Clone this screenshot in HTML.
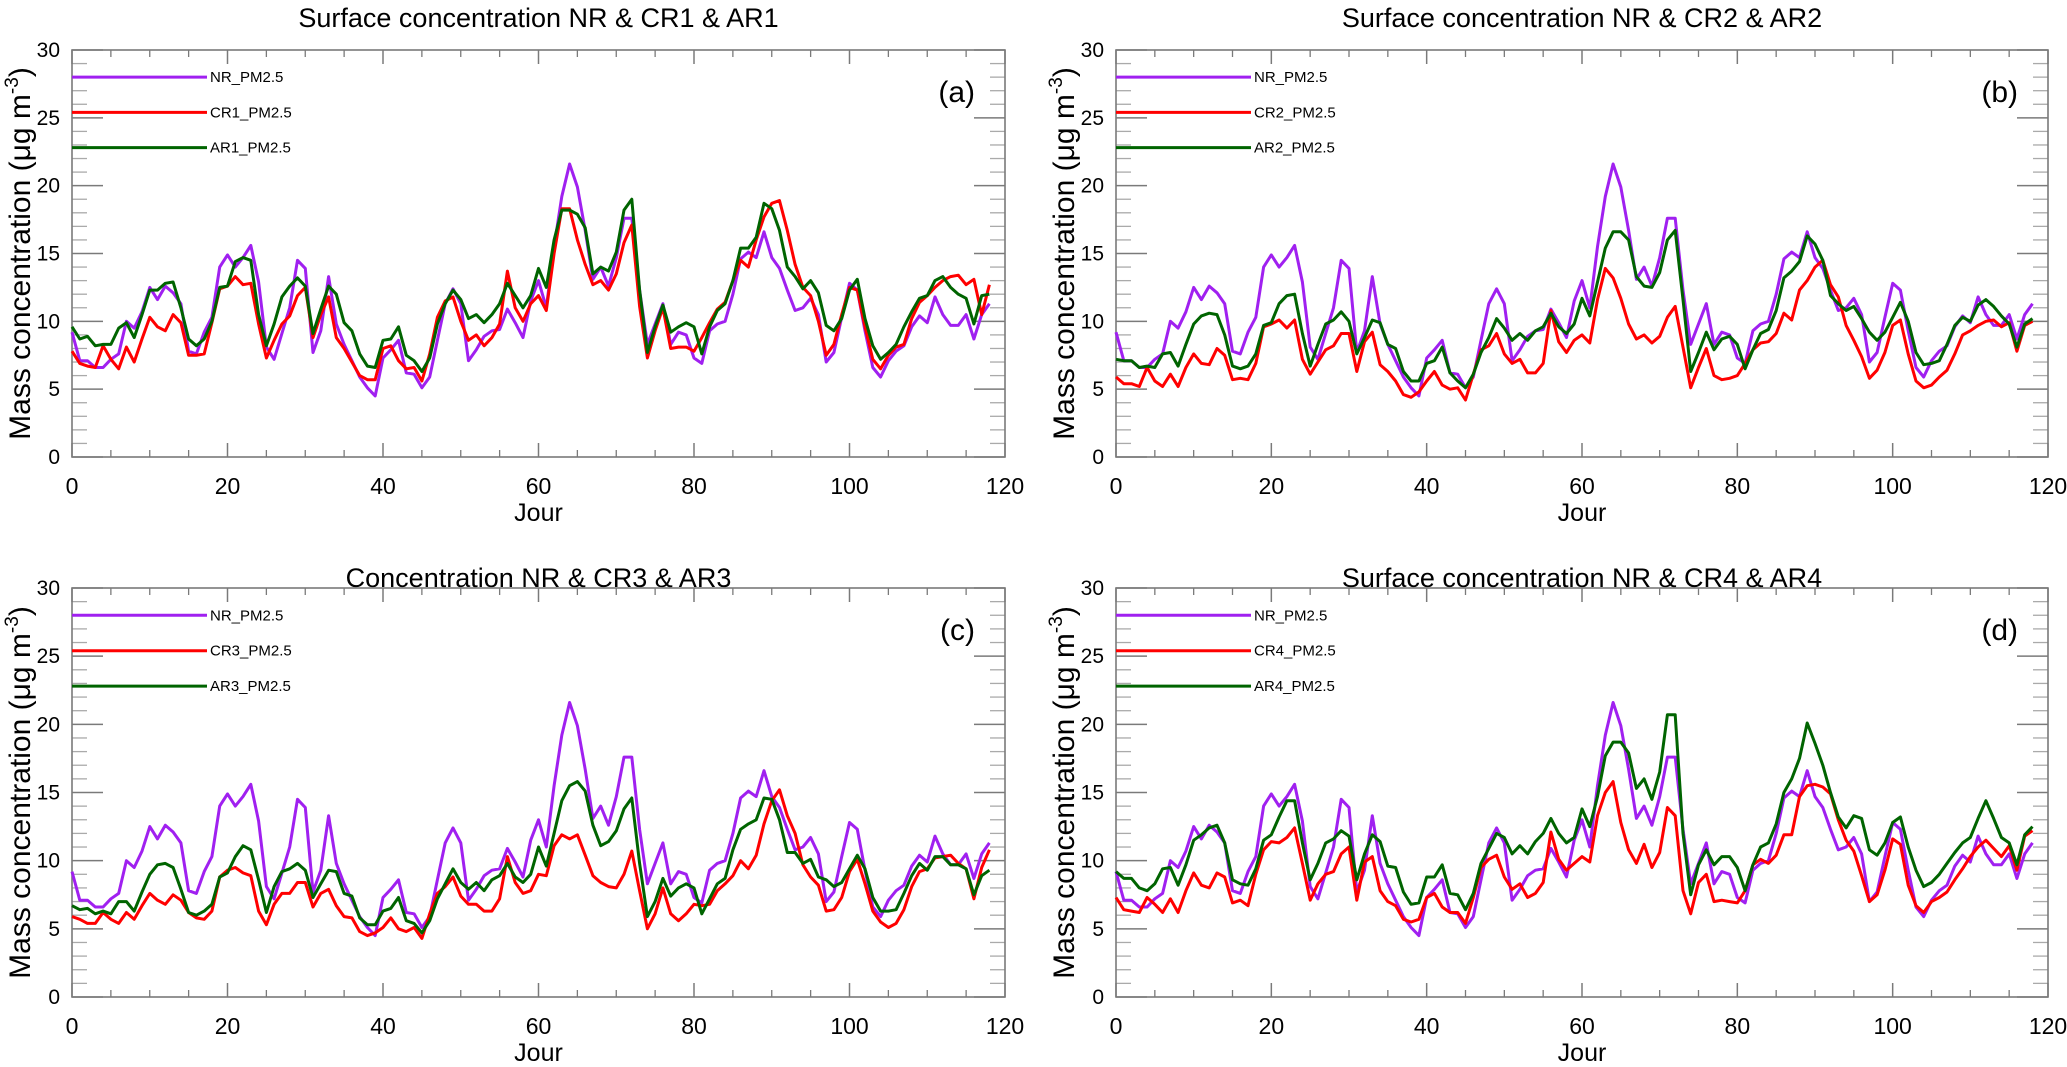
<!DOCTYPE html>
<html><head><meta charset="utf-8"><style>
html,body{margin:0;padding:0;background:#fff;}
svg{display:block;font-family:"Liberation Sans",sans-serif;}
</style></head><body>
<svg id="chart" width="2067" height="1067" viewBox="0 0 2067 1067" xmlns="http://www.w3.org/2000/svg"></svg>
<script>
const xTicks = [0, 20, 40, 60, 80, 100, 120];
const yTicks = [0, 5, 10, 15, 20, 25, 30];
const nr = [9.2,7.1,7.1,6.6,6.6,7.2,7.6,10.0,9.5,10.7,12.5,11.6,12.6,12.1,11.3,7.8,7.6,9.2,10.3,14.0,14.9,14.0,14.7,15.6,12.9,8.1,7.2,9.1,11.0,14.5,13.9,7.7,9.3,13.3,9.8,8.3,7.1,5.9,5.1,4.5,7.3,7.9,8.6,6.2,6.1,5.1,5.9,8.6,11.3,12.4,11.3,7.1,7.9,8.9,9.3,9.4,10.9,9.9,8.8,11.5,13.0,11.0,15.5,19.2,21.6,19.9,16.7,13.1,14.0,12.6,14.7,17.6,17.6,12.3,8.3,9.8,11.3,8.3,9.2,9.0,7.3,6.9,9.3,9.8,10.0,12.0,14.6,15.1,14.7,16.6,14.7,13.9,12.3,10.8,11.0,11.7,10.5,7.0,7.7,10.3,12.8,12.3,9.3,6.6,5.9,7.1,7.8,8.2,9.6,10.4,9.9,11.8,10.5,9.7,9.7,10.5,8.7,10.5,11.3];
const cr1 = [7.8,6.9,6.7,6.6,8.2,7.2,6.5,8.1,7.0,8.7,10.3,9.6,9.3,10.5,9.9,7.5,7.5,7.6,9.9,12.4,12.6,13.3,12.7,12.8,9.8,7.3,8.6,9.8,10.4,11.9,12.5,8.8,10.5,11.8,8.8,8.0,7.0,6.0,5.7,5.7,8.0,8.2,7.1,6.5,6.6,5.6,7.6,10.3,11.5,11.8,10.0,8.6,9.0,8.2,8.8,9.8,13.7,11.0,10.0,11.3,11.9,10.8,15.0,18.3,18.3,16.0,14.2,12.7,13.0,12.3,13.5,15.8,17.1,11.1,7.3,9.3,11.0,8.0,8.1,8.1,7.8,8.8,9.9,10.9,11.4,13.0,14.5,14.0,16.0,17.7,18.7,18.9,16.7,14.2,12.5,11.9,10.0,7.5,8.3,10.5,12.5,12.3,9.6,7.2,6.5,7.5,8.1,8.3,10.2,11.4,11.9,12.5,13.0,13.3,13.4,12.7,13.1,10.5,12.7];
const ar1 = [9.6,8.7,8.9,8.2,8.3,8.3,9.5,9.9,8.8,10.5,12.3,12.3,12.8,12.9,11.0,8.7,8.2,8.7,10.0,12.5,12.6,14.4,14.7,14.5,10.5,8.2,9.8,11.8,12.6,13.2,12.6,9.1,10.9,12.6,12.0,9.9,9.3,7.6,6.7,6.6,8.6,8.7,9.6,7.5,7.1,6.3,7.3,9.8,11.3,12.3,11.6,10.2,10.5,9.9,10.5,11.3,12.8,11.9,11.0,11.9,13.9,12.5,16.0,18.2,18.2,17.9,16.9,13.5,14.0,13.7,15.1,18.2,19.0,12.3,7.7,9.6,11.2,9.2,9.6,9.9,9.6,7.6,9.6,10.8,11.3,13.0,15.4,15.4,16.2,18.7,18.3,16.7,14.0,13.3,12.4,13.0,12.1,9.7,9.3,10.2,12.3,13.1,10.2,8.2,7.2,7.7,8.3,9.6,10.7,11.7,11.9,13.0,13.3,12.5,12.0,11.7,9.8,11.9,12.0];
const cr2 = [5.9,5.4,5.4,5.2,6.6,5.6,5.2,6.1,5.2,6.6,7.6,6.9,6.8,8.0,7.5,5.7,5.8,5.7,6.9,9.6,9.8,10.1,9.5,10.1,7.2,6.1,7.0,7.9,8.2,9.1,9.1,6.3,8.5,9.2,6.8,6.3,5.6,4.6,4.4,4.8,5.6,6.3,5.3,5.0,5.1,4.2,6.1,7.9,8.2,9.1,7.6,6.9,7.2,6.2,6.2,6.9,10.8,8.5,7.7,8.6,9.0,8.4,11.6,13.9,13.2,11.7,9.8,8.7,9.0,8.4,8.9,10.3,11.1,8.1,5.1,6.6,8.0,6.0,5.7,5.8,6.0,6.9,7.9,8.4,8.5,9.1,10.6,10.1,12.3,13.0,14.0,14.5,12.7,11.8,9.7,8.6,7.4,5.8,6.4,7.7,9.7,10.1,7.6,5.6,5.1,5.3,5.9,6.4,7.6,9.0,9.3,9.7,10.0,10.1,9.6,9.9,7.8,9.7,10.0];
const ar2 = [7.2,7.1,7.1,6.6,6.7,6.6,7.6,7.7,6.7,8.3,9.8,10.4,10.6,10.5,9.0,6.7,6.5,6.7,7.6,9.7,9.9,11.3,11.9,12.0,9.1,6.7,8.3,9.8,10.1,10.7,10.0,7.6,8.8,10.1,9.9,8.3,8.0,6.3,5.6,5.6,6.9,7.1,8.1,6.2,5.6,5.1,6.1,7.7,8.8,10.2,9.5,8.6,9.1,8.6,9.3,9.6,10.6,9.6,9.1,9.8,11.7,10.4,12.9,15.4,16.6,16.6,16.0,13.3,12.6,12.5,13.6,16.0,16.7,11.6,6.3,7.7,9.2,7.9,8.7,8.9,8.3,6.5,7.9,9.1,9.4,10.8,13.2,13.7,14.4,16.3,15.7,14.5,11.9,11.3,10.8,11.1,10.2,9.2,8.6,9.2,10.3,11.4,10.0,7.7,6.8,6.9,7.1,8.3,9.7,10.3,10.0,11.2,11.6,11.1,10.4,9.8,8.1,9.8,10.2];
const cr3 = [5.9,5.7,5.4,5.4,6.2,5.7,5.4,6.2,5.7,6.7,7.6,7.1,6.8,7.5,7.1,6.2,5.8,5.7,6.3,8.8,9.3,9.5,9.1,8.9,6.3,5.3,6.8,7.6,7.6,8.4,8.4,6.6,7.6,7.9,6.7,5.9,5.8,4.8,4.5,4.7,5.1,5.8,5.0,4.8,5.1,4.3,6.1,7.6,8.1,8.8,7.4,6.8,6.8,6.3,6.3,7.2,10.3,8.4,7.6,7.8,9.0,8.9,11.1,11.9,11.6,11.9,10.4,8.9,8.4,8.1,8.0,9.0,10.7,7.8,5.0,6.1,8.0,6.1,5.6,6.1,6.8,6.7,6.8,7.8,8.3,8.9,10.0,9.4,10.4,12.7,14.4,15.2,13.3,12.0,9.7,8.8,8.2,6.3,6.4,7.3,9.2,10.1,8.3,6.3,5.5,5.1,5.4,6.4,8.1,9.2,9.4,10.2,10.3,10.4,9.8,9.4,7.2,9.5,10.8];
const ar3 = [6.7,6.4,6.5,6.1,6.3,6.1,7.0,7.0,6.3,7.7,9.0,9.7,9.8,9.5,7.9,6.2,6.0,6.3,6.8,8.8,9.1,10.3,11.1,10.8,8.6,6.2,8.1,9.2,9.4,9.8,9.3,7.3,8.3,9.3,9.2,7.6,7.4,5.8,5.3,5.3,6.3,6.5,7.3,5.6,5.4,4.7,5.6,7.2,8.3,9.4,8.4,7.9,8.4,7.8,8.6,8.9,9.8,8.8,8.4,9.0,11.0,9.6,12.0,14.4,15.5,15.8,15.1,12.6,11.1,11.4,12.2,13.8,14.6,9.8,5.9,7.0,8.7,7.4,8.0,8.3,8.0,6.1,7.2,8.3,8.7,10.8,12.3,12.7,13.0,14.6,14.5,13.0,10.6,10.6,9.8,10.1,8.8,8.6,8.1,8.4,9.4,10.4,9.4,7.3,6.3,6.3,6.4,7.6,8.9,9.8,9.3,10.3,10.3,9.7,9.7,9.4,7.5,8.9,9.3];
const cr4 = [7.3,6.4,6.3,6.2,7.3,6.8,6.2,7.2,6.2,7.8,9.1,8.2,8.0,9.1,8.8,6.9,7.1,6.7,9.0,10.8,11.4,11.3,11.7,12.4,9.8,7.1,8.3,9.0,9.2,10.5,11.0,7.1,9.9,10.3,7.8,7.0,6.7,5.7,5.5,5.7,7.3,7.6,6.6,6.2,6.2,5.4,7.3,9.5,10.1,10.4,8.8,7.9,8.3,7.3,7.6,8.4,12.1,10.1,9.3,9.8,10.3,9.9,13.3,15.0,15.8,12.8,10.8,9.8,11.2,9.5,10.6,13.9,13.3,7.8,6.1,8.4,9.0,7.0,7.1,7.0,6.9,7.8,9.7,10.1,9.8,10.4,11.9,11.9,14.7,15.5,15.6,15.4,14.9,13.0,11.5,10.7,8.9,7.0,7.5,9.3,11.6,11.2,8.2,6.7,6.2,7.0,7.3,7.7,8.6,9.4,10.3,11.0,11.5,10.9,10.3,11.1,9.3,11.8,12.2];
const ar4 = [9.2,8.7,8.7,8.0,7.8,8.3,9.4,9.5,8.2,9.7,11.5,11.9,12.4,12.6,11.3,8.6,8.3,8.2,9.4,11.5,11.9,13.2,14.4,14.4,11.3,8.6,9.8,11.3,11.6,12.2,11.8,8.6,10.5,11.9,11.4,9.6,9.5,7.7,6.8,6.9,8.8,8.8,9.7,7.6,7.5,6.4,7.6,9.8,10.9,12.0,11.7,10.5,11.1,10.5,11.4,12.0,13.1,12.0,11.3,11.7,13.8,12.5,14.7,17.7,18.7,18.7,17.9,15.3,16.0,14.5,16.5,20.7,20.7,12.0,7.5,9.7,10.8,9.7,10.3,10.3,9.5,7.8,9.7,11.0,11.3,12.7,15.0,16.0,17.5,20.1,18.6,17.0,15.0,13.2,12.4,13.3,13.1,10.8,10.4,11.3,12.8,13.2,11.0,9.3,8.1,8.4,9.0,9.8,10.6,11.3,11.7,13.1,14.4,13.1,11.7,11.3,9.7,11.9,12.5];

const panels = [
  {key:'a', x0:72, x1:1005, yT:50, yB:457, title:'Surface concentration NR & CR1 & AR1', titleY:27, cr:cr1, ar:ar1, crName:'CR1_PM2.5', arName:'AR1_PM2.5'},
  {key:'b', x0:1116, x1:2048, yT:50, yB:457, title:'Surface concentration NR & CR2 & AR2', titleY:27, cr:cr2, ar:ar2, crName:'CR2_PM2.5', arName:'AR2_PM2.5'},
  {key:'c', x0:72, x1:1005, yT:588, yB:997, title:'Concentration NR & CR3 & AR3', titleY:587, cr:cr3, ar:ar3, crName:'CR3_PM2.5', arName:'AR3_PM2.5'},
  {key:'d', x0:1116, x1:2048, yT:588, yB:997, title:'Surface concentration NR & CR4 & AR4', titleY:587, cr:cr4, ar:ar4, crName:'CR4_PM2.5', arName:'AR4_PM2.5'}
];
const NS = 'http://www.w3.org/2000/svg';
const svg = document.getElementById('chart');
function mk(tag, attrs, parent){ const e=document.createElementNS(NS,tag); for(const k in attrs) e.setAttribute(k,attrs[k]); parent.appendChild(e); return e; }
const AX = '#7a7a7a';
panels.forEach(p=>{
  const g = mk('g',{},svg);
  
  
  const xs = v => p.x0 + (v/120)*(p.x1-p.x0);
  const ys = v => p.yB - (v/30)*(p.yB-p.yT);
  const cx = (p.x0+p.x1)/2;
  const t = mk('text',{x:cx, y:p.titleY, 'text-anchor':'middle','font-size':27,fill:'#000'},g);
  t.textContent = p.title;
  
  
  for(let v=0; v<=120; v+=5){ if(v%20===0) continue; const x=xs(v);
    mk('line',{x1:x,y1:p.yB,x2:x,y2:p.yB-7,stroke:AX,'stroke-width':1.3},g);
    mk('line',{x1:x,y1:p.yT,x2:x,y2:p.yT+7,stroke:AX,'stroke-width':1.3},g); }
  for(let v=0; v<=30; v+=1){ if(v%5===0) continue; const y=ys(v);
    mk('line',{x1:p.x0,y1:y,x2:p.x0+15,y2:y,stroke:'#aaa','stroke-width':1.3},g);
    mk('line',{x1:p.x1,y1:y,x2:p.x1-15,y2:y,stroke:'#aaa','stroke-width':1.3},g); }
  xTicks.forEach(v=>{ const x=xs(v);
    mk('line',{x1:x,y1:p.yB,x2:x,y2:p.yB-14,stroke:AX,'stroke-width':1.5},g);
    mk('line',{x1:x,y1:p.yT,x2:x,y2:p.yT+14,stroke:AX,'stroke-width':1.5},g);
    const tl = mk('text',{x:x,y:p.yB+37,'text-anchor':'middle','font-size':23,fill:'#000'},g);
    tl.textContent = v;
    
    
  });
  yTicks.forEach(v=>{ const y=ys(v);
    mk('line',{x1:p.x0,y1:y,x2:p.x0+31,y2:y,stroke:AX,'stroke-width':1.5},g);
    mk('line',{x1:p.x1,y1:y,x2:p.x1-31,y2:y,stroke:AX,'stroke-width':1.5},g);
    const tl = mk('text',{x:p.x0-12,y:y+7,'text-anchor':'end','font-size':21,fill:'#000'},g);
    tl.textContent = v;
    
    
  });
  const box = mk('rect',{x:p.x0,y:p.yT,width:p.x1-p.x0,height:p.yB-p.yT,fill:'none',stroke:AX,'stroke-width':1.6},g);
  
  
  const xt = mk('text',{x:cx,y:p.yB+64,'text-anchor':'middle','font-size':25,fill:'#000'},g);
  xt.textContent = 'Jour';
  
  
  const ymid = (p.yT+p.yB)/2;
  const yt = mk('text',{x:0,y:0,'text-anchor':'middle','font-size':30,fill:'#000',transform:`translate(${p.x0-42},${ymid}) rotate(-90)`},g);
  
  
  yt.innerHTML = 'Mass  concentration (μg m<tspan dy="-12" font-size="19">-3</tspan><tspan dy="12">)</tspan>';
  const pl = mk('text',{x:p.x1-30,y:p.yT+52,'text-anchor':'end','font-size':30,fill:'#000'},g);
  pl.textContent = '('+p.key+')';
  
  
  const series = [[nr,'#a020f0','NR_PM2.5',28],[p.cr,'#ff0000',p.crName,25.4],[p.ar,'#006400',p.arName,22.8]];
  series.forEach(s=>{
    const pts = s[0].map((v,i)=>xs(i).toFixed(1)+','+ys(v).toFixed(1)).join(' ');
    const line = mk('polyline',{points:pts,fill:'none',stroke:s[1],'stroke-width':3,'stroke-linejoin':'round'},g);
    
    
    const ly = ys(s[3]);
    const ll = mk('line',{x1:p.x0,y1:ly,x2:p.x0+135,y2:ly,stroke:s[1],'stroke-width':3},g);
    
    
    const lt = mk('text',{x:p.x0+138,y:ly+5,'font-size':15,fill:'#000'},g);
    lt.textContent = s[2];
    
    
  });
});
</script>
</body></html>
